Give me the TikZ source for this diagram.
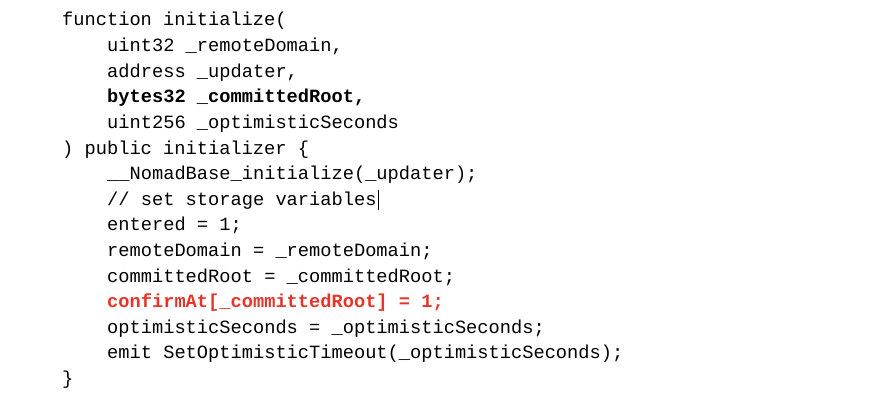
\documentclass[tikz,border=0pt]{standalone}
\usepackage{fontspec}
\setmonofont{Liberation Mono}
\definecolor{codered}{RGB}{232,52,40}
\begin{document}
\begin{tikzpicture}[x=1pt,y=-1pt,
  code/.style={anchor=base west,inner sep=0pt,font=\ttfamily\fontsize{18.7}{20}\selectfont}]
\useasboundingbox (0,0) rectangle (876,404);
\def\lx{62}\def\ix{107}\def\dy{25.6}
\node[code] (l1) at (\lx,26) {function initialize(};
\node[code] (l2) at (\ix,26+\dy) {uint32 \_remoteDomain,};
\node[code] (l3) at (\ix,26+2*\dy) {address \_updater,};
\node[code] (l4) at (\ix,26+3*\dy) {\bfseries bytes32 \_committedRoot,};
\node[code] (l5) at (\ix,26+4*\dy) {uint256 \_optimisticSeconds};
\node[code] (l6) at (\lx,26+5*\dy) {) public initializer \{};
\node[code] (l7) at (\ix,26+6*\dy) {\_\_NomadBase\_initialize(\_updater);};
\node[code] (l8) at (\ix,26+7*\dy) {// set storage variables};
\node[code] (l9) at (\ix,26+8*\dy) {entered = 1;};
\node[code] (l10) at (\ix,26+9*\dy) {remoteDomain = \_remoteDomain;};
\node[code] (l11) at (\ix,26+10*\dy) {committedRoot = \_committedRoot;};
\node[code,text=codered] (l12) at (\ix,26+11*\dy) {\bfseries confirmAt[\_committedRoot] = 1;};
\node[code] (l13) at (\ix,26+12*\dy) {optimisticSeconds = \_optimisticSeconds;};
\node[code] (l14) at (\ix,26+13*\dy) {emit SetOptimisticTimeout(\_optimisticSeconds);};
\node[code] (l15) at (\lx,26+14*\dy) {\}};
\draw[line width=1.3pt] ([xshift=2pt]l8.base east) ++(0,5) -- ++(0,-20);
\end{tikzpicture}
\end{document}
